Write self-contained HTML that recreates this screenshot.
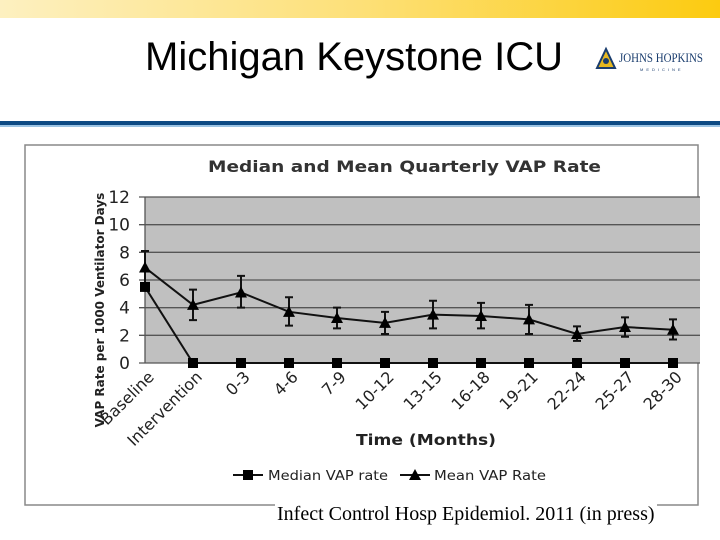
<!DOCTYPE html>
<html><head><meta charset="utf-8"><style>
body{margin:0;width:720px;height:540px;overflow:hidden;background:#fff;font-family:"Liberation Sans",sans-serif;position:relative}
</style></head><body>
<div style="position:absolute;left:0;top:0;width:720px;height:18px;background:linear-gradient(90deg,#fdf0c0,#fde078 50%,#fccb10)"></div>
<div style="position:absolute;left:145px;top:35px;font-size:40px;color:#000">Michigan Keystone ICU</div>
<div style="position:absolute;left:594px;top:46px;width:120px;height:28px">
<svg width="120" height="28"><path d="M3 22 L12 3 L21 22 Z" fill="#e6b820" stroke="#1a3d6e" stroke-width="2"/><circle cx="12" cy="15" r="3" fill="#1a3d6e"/>
<text x="25" y="16" font-family="Liberation Serif" font-size="13" fill="#1a3d6e" textLength="84" lengthAdjust="spacingAndGlyphs">JOHNS HOPKINS</text>
<text x="46" y="25" font-size="4" fill="#1a3d6e" letter-spacing="3">MEDICINE</text></svg></div>
<div style="position:absolute;left:0;top:121px;width:720px;height:4px;background:#0d4a84"></div>
<div style="position:absolute;left:0;top:125px;width:720px;height:2px;background:#9cc4e4"></div>
<svg style="position:absolute;left:0;top:0" width="720" height="540" id="chart"></svg>
<div style="position:absolute;left:275px;top:503px;font-family:'Liberation Serif',serif;font-size:20px;background:#fff;padding:0 2px;white-space:nowrap">Infect Control Hosp Epidemiol. 2011 (in press)</div>
<script>
const categories=["Baseline","Intervention","0-3","4-6","7-9","10-12","13-15","16-18","19-21","22-24","25-27","28-30"];
const medianVals=[5.5,0,0,0,0,0,0,0,0,0,0,0];
const meanVals=[6.9,4.2,5.1,3.7,3.25,2.9,3.5,3.4,3.15,2.1,2.6,2.4];
const errHigh=[8.1,5.3,6.3,4.75,4.0,3.7,4.5,4.35,4.2,2.65,3.3,3.15];
const errLow=[5.6,3.1,4.0,2.7,2.5,2.1,2.5,2.5,2.1,1.6,1.9,1.7];
const yTicks=[0,2,4,6,8,10,12];
const svg=document.getElementById('chart');const NS='http://www.w3.org/2000/svg';
function mk(t,a,txt){const e=document.createElementNS(NS,t);for(const k in a)e.setAttribute(k,a[k]);if(txt!=null)e.textContent=txt;svg.appendChild(e);return e;}
const X0=145,DX=48,Y0=363,YS=(363-197)/12;
const xs=i=>X0+i*DX, ys=v=>Y0-v*YS;
let e=mk('rect',{x:25,y:145,width:673,height:360,fill:'#fff',stroke:'#888','stroke-width':1.5});

e=mk('text',{x:208,y:172,'font-family':'DejaVu Sans','font-weight':'bold','font-size':16,fill:'#333',textLength:393,lengthAdjust:'spacingAndGlyphs'},'Median and Mean Quarterly VAP Rate');

e=mk('rect',{x:145,y:197,width:555,height:166,fill:'#c0c0c0'});

yTicks.forEach(t=>{const l=mk('line',{x1:139,x2:700,y1:ys(t),y2:ys(t),stroke:'#555','stroke-width':1.3});

const tx=mk('text',{x:130,y:ys(t)+6,'text-anchor':'end','font-family':'DejaVu Sans','font-size':17,fill:'#222'},t);
});
mk('line',{x1:145,x2:145,y1:197,y2:363,stroke:'#555','stroke-width':1.3});
categories.forEach((c,i)=>{const t=mk('text',{x:xs(i)+10,y:378,'text-anchor':'end','font-family':'DejaVu Sans','font-size':16,fill:'#222',transform:`rotate(-45 ${xs(i)+10} 378)`},c);
});
e=mk('text',{x:0,y:0,'text-anchor':'middle','font-family':'DejaVu Sans','font-weight':'bold','font-size':12,fill:'#222',transform:'translate(104,310) rotate(-90)'},'VAP Rate per 1000 Ventilator Days');

e=mk('text',{x:356,y:445,'font-family':'DejaVu Sans','font-weight':'bold','font-size':15,fill:'#222',textLength:140,lengthAdjust:'spacingAndGlyphs'},'Time (Months)');

meanVals.forEach((v,i)=>{const x=xs(i);const g=mk('path',{d:`M${x} ${ys(errLow[i])}V${ys(errHigh[i])}M${x-4} ${ys(errLow[i])}h8M${x-4} ${ys(errHigh[i])}h8`,stroke:'#111','stroke-width':2,fill:'none'});
});
e=mk('polyline',{points:meanVals.map((v,i)=>xs(i)+','+ys(v)).join(' '),fill:'none',stroke:'#111','stroke-width':2});

e=mk('polyline',{points:medianVals.map((v,i)=>xs(i)+','+ys(v)).join(' '),fill:'none',stroke:'#111','stroke-width':2});

meanVals.forEach((v,i)=>{const x=xs(i),y=ys(v);const p=mk('path',{d:`M${x} ${y-6}L${x+6} ${y+5}L${x-6} ${y+5}Z`,fill:'#000'});
});
medianVals.forEach((v,i)=>{const r=mk('rect',{x:xs(i)-5,y:ys(v)-5,width:10,height:10,fill:'#000'});
});
e=mk('path',{d:'M233 475h30',stroke:'#111','stroke-width':2});
e=mk('rect',{x:243,y:470,width:10,height:10,fill:'#000'});
e=mk('text',{x:268,y:480,'font-family':'DejaVu Sans','font-size':13,fill:'#222',textLength:120,lengthAdjust:'spacingAndGlyphs'},'Median VAP rate');
e=mk('path',{d:'M400 475h30',stroke:'#111','stroke-width':2});
e=mk('path',{d:'M415 469L421 480L409 480Z',fill:'#000'});
e=mk('text',{x:434,y:480,'font-family':'DejaVu Sans','font-size':13,fill:'#222',textLength:112,lengthAdjust:'spacingAndGlyphs'},'Mean VAP Rate');
</script>
</body></html>
